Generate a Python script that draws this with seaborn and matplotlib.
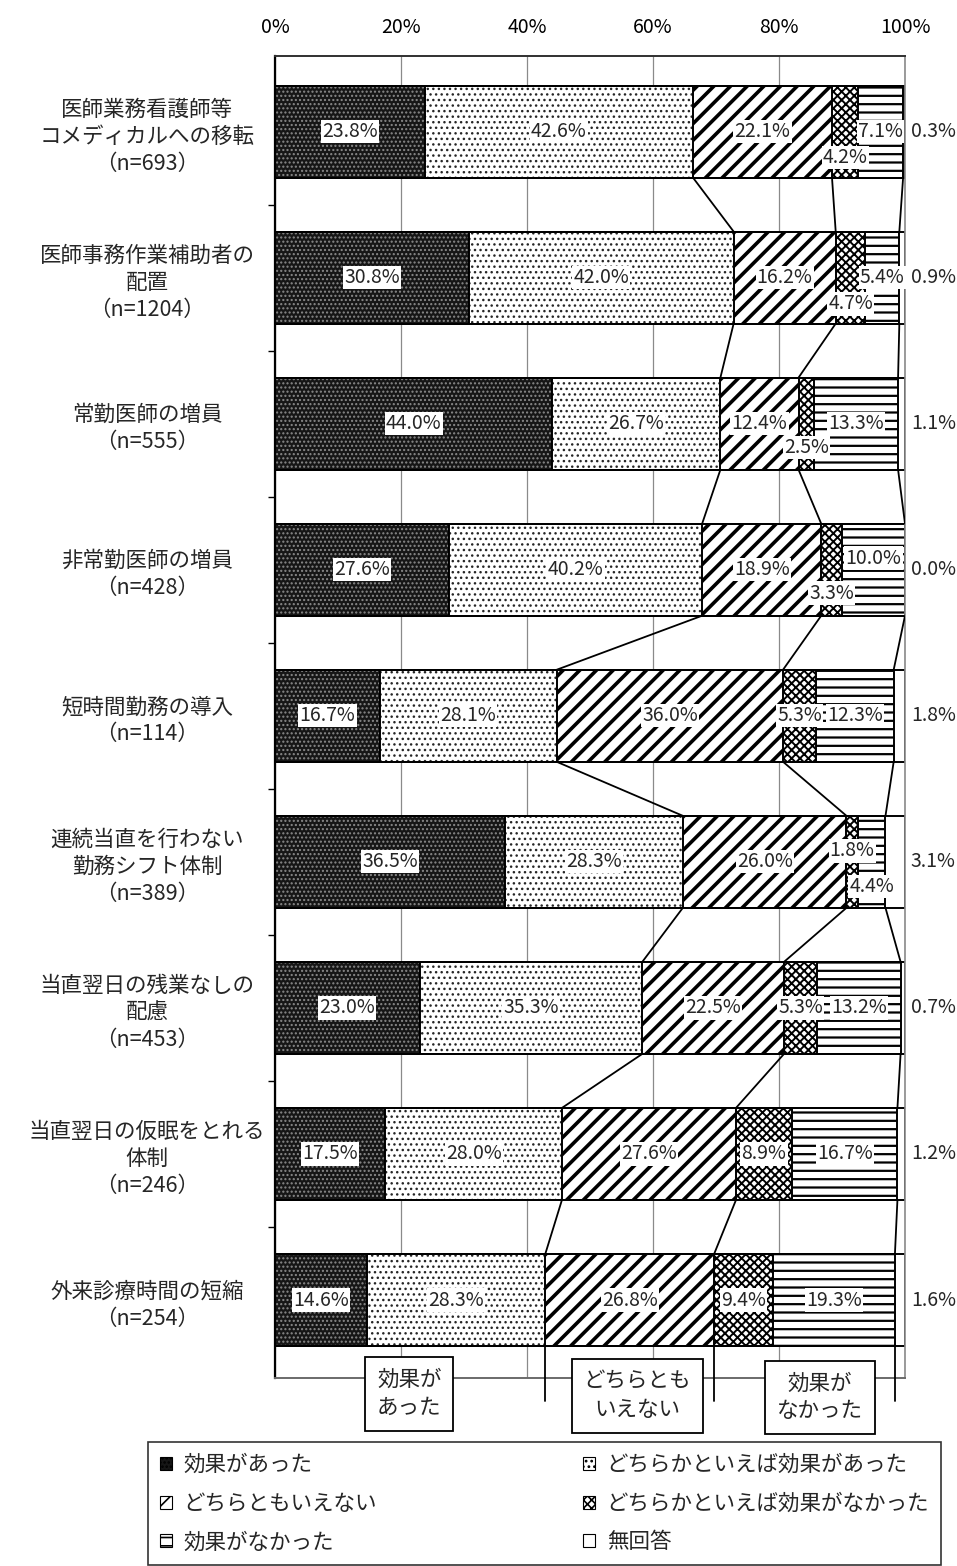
import numpy as np
import pandas as pd
import matplotlib
matplotlib.use("Agg")
import matplotlib.pyplot as plt
from matplotlib.patches import Patch
import seaborn as sns

# ---- data -------------------------------------------------------------
measures = [
    "医師業務看護師等\nコメディカルへの移転",
    "医師事務作業補助者の\n配置",
    "常勤医師の増員",
    "非常勤医師の増員",
    "短時間勤務の導入",
    "連続当直を行わない\n勤務シフト体制",
    "当直翌日の残業なしの\n配慮",
    "当直翌日の仮眠をとれる\n体制",
    "外来診療時間の短縮",
]
sample_sizes = [693, 1204, 555, 428, 114, 389, 453, 246, 254]

effective = [23.8, 30.8, 44.0, 27.6, 16.7, 36.5, 23.0, 17.5, 14.6]
rather_effective = [42.6, 42.0, 26.7, 40.2, 28.1, 28.3, 35.3, 28.0, 28.3]
neutral = [22.1, 16.2, 12.4, 18.9, 36.0, 26.0, 22.5, 27.6, 26.8]
rather_ineffective = [4.2, 4.7, 2.5, 3.3, 5.3, 1.8, 5.3, 8.9, 9.4]
ineffective = [7.1, 5.4, 13.3, 10.0, 12.3, 4.4, 13.2, 16.7, 19.3]
no_answer = [0.3, 0.9, 1.1, 0.0, 1.8, 3.1, 0.7, 1.2, 1.6]

series_names = [
    "効果があった",
    "どちらかといえば効果があった",
    "どちらともいえない",
    "どちらかといえば効果がなかった",
    "効果がなかった",
    "無回答",
]
xtick_values = [0, 20, 40, 60, 80, 100]
xtick_labels = ["0%", "20%", "40%", "60%", "80%", "100%"]
group_notes = ["効果が\nあった", "どちらとも\nいえない", "効果が\nなかった"]

# ---- styling ----------------------------------------------------------
sns.set_theme(style="white")
plt.rcParams["font.family"] = ["Noto Sans CJK JP", "DejaVu Sans"]
plt.rcParams["hatch.linewidth"] = 1.2

STYLES = [
    dict(face="#161616", hatch="....", hcolor="#8a8a8a", hlw=1.0),
    dict(face="white", hatch="...", hcolor="#262626", hlw=1.0),
    dict(face="white", hatch="//", hcolor="black", hlw=2.6),
    dict(face="white", hatch="xxxx", hcolor="black", hlw=1.4),
    dict(face="white", hatch="--", hcolor="black", hlw=1.6),
    dict(face="white", hatch="", hcolor="black", hlw=1.0),
]
BAR_W = 0.63
LABEL_FS = 15.5
VALUE_FS = 14

values = np.array([effective, rather_effective, neutral,
                   rather_ineffective, ineffective, no_answer]).T
shares = values / values.sum(axis=1, keepdims=True) * 100
cum = np.cumsum(shares, axis=1)

row_labels = [f"{m}\n（n={n}）" for m, n in zip(measures, sample_sizes)]
df = pd.DataFrame(cum, columns=series_names)
df["施策"] = row_labels

fig = plt.figure(figsize=(9.57, 15.66), dpi=100)
ax = fig.add_axes([275 / 957, 1 - 1378 / 1566, 630 / 957, 1322 / 1566])

# hatched layers: cumulative totals drawn from the widest down
for k in reversed(range(6)):
    st = STYLES[k]
    before = len(ax.patches)
    sns.barplot(data=df, x=series_names[k], y="施策", order=row_labels,
                orient="h", color=st["face"], saturation=1, width=BAR_W,
                errorbar=None, linewidth=0, ax=ax)
    for p in ax.patches[before:]:
        p.set_facecolor(st["face"])
        p.set_edgecolor(st["hcolor"])
        p.set_linewidth(0)
        p.set_hatch(st["hatch"])
        if hasattr(p, "set_hatch_linewidth"):
            p.set_hatch_linewidth(st["hlw"])

# black outlines of every segment
for k in reversed(range(6)):
    sns.barplot(data=df, x=series_names[k], y="施策", order=row_labels,
                orient="h", fill=False, color="black", width=BAR_W,
                errorbar=None, linewidth=1.4, ax=ax)

n_rows = len(row_labels)
ax.set_xlim(0, 100)
ax.set_ylim(8.534, -0.517)

# connector lines between neighbouring bars
for k in (1, 2, 4):
    for i in range(n_rows - 1):
        ax.plot([cum[i, k], cum[i + 1, k]],
                [i + BAR_W / 2, i + 1 - BAR_W / 2],
                color="black", lw=1.3, zorder=4)
    ax.plot([cum[-1, k], cum[-1, k]], [n_rows - 1 + BAR_W / 2, 8.69],
            color="black", lw=1.3, zorder=4, clip_on=False)

# value labels
offsets = {(0, 3): 0.18, (1, 3): 0.18, (2, 3): 0.165, (3, 3): 0.16,
           (3, 4): -0.08, (5, 3): -0.075, (5, 4): 0.17}
box = dict(boxstyle="square,pad=0.06", fc="white", ec="none")
for i in range(n_rows):
    for k in range(5):
        x = cum[i, k] - shares[i, k] / 2
        y = i + offsets.get((i, k), 0)
        ax.text(x, y, f"{values[i, k]:.1f}%", ha="center", va="center",
                fontsize=VALUE_FS, bbox=box, zorder=6)
    ax.text(104.5, i, f"{values[i, 5]:.1f}%", ha="center", va="center",
            fontsize=VALUE_FS, clip_on=False)

# group notes under the chart
for (x, y), note in zip([(21.3, 8.644), (57.5, 8.657), (86.5, 8.667)],
                        group_notes):
    ax.text(x, y, note, ha="center", va="center", fontsize=LABEL_FS,
            linespacing=1.35, clip_on=False, zorder=7,
            bbox=dict(boxstyle="square,pad=0.55", fc="white",
                      ec="black", lw=1.3))

# axes decoration
ax.set_xlabel("")
ax.set_ylabel("")
ax.xaxis.tick_top()
ax.set_xticks(xtick_values)
ax.set_xticklabels(xtick_labels, fontsize=VALUE_FS)
ax.tick_params(axis="x", length=0, pad=13, colors="black")
ax.xaxis.grid(True, color="#8a8a8a", lw=0.9)
ax.yaxis.grid(False)
ax.set_axisbelow(True)

ax.set_yticks(range(n_rows))
ax.set_yticklabels(row_labels, fontsize=LABEL_FS, linespacing=1.3,
                   ha="center", multialignment="center")
ax.tick_params(axis="y", which="major", length=0, pad=92)
ax.set_yticks(np.arange(0.5, n_rows - 1, 1), minor=True)
ax.tick_params(axis="y", which="minor", left=True, length=5, width=1,
               direction="out", color="black")

for side, col, lw in (("left", "black", 1.6), ("top", "#303030", 1.4),
                      ("right", "#8a8a8a", 1.2), ("bottom", "#6a6a6a", 1.4)):
    ax.spines[side].set_visible(True)
    ax.spines[side].set_color(col)
    ax.spines[side].set_linewidth(lw)

# legend
handles = []
for st in STYLES:
    h = Patch(facecolor=st["face"], edgecolor=st["hcolor"],
              hatch=st["hatch"], linewidth=0)
    handles.append(h)
order = [0, 2, 4, 1, 3, 5]
leg = fig.legend([handles[j] for j in order], [series_names[j] for j in order],
                 loc="upper left", ncol=2, mode="expand",
                 bbox_to_anchor=(148 / 957, 1 - 1563 / 1566,
                                 793 / 957, 121 / 1566),
                 fontsize=LABEL_FS, frameon=True, fancybox=False,
                 edgecolor="black", borderpad=0.55, labelspacing=0.78,
                 handlelength=0.55, handleheight=0.55, handletextpad=0.55,
                 borderaxespad=0)
leg.get_frame().set_linewidth(1.2)
for h in leg.legend_handles:
    h.set_edgecolor("black")
    h.set_linewidth(0.8)

fig.savefig("out.png", dpi=100)
